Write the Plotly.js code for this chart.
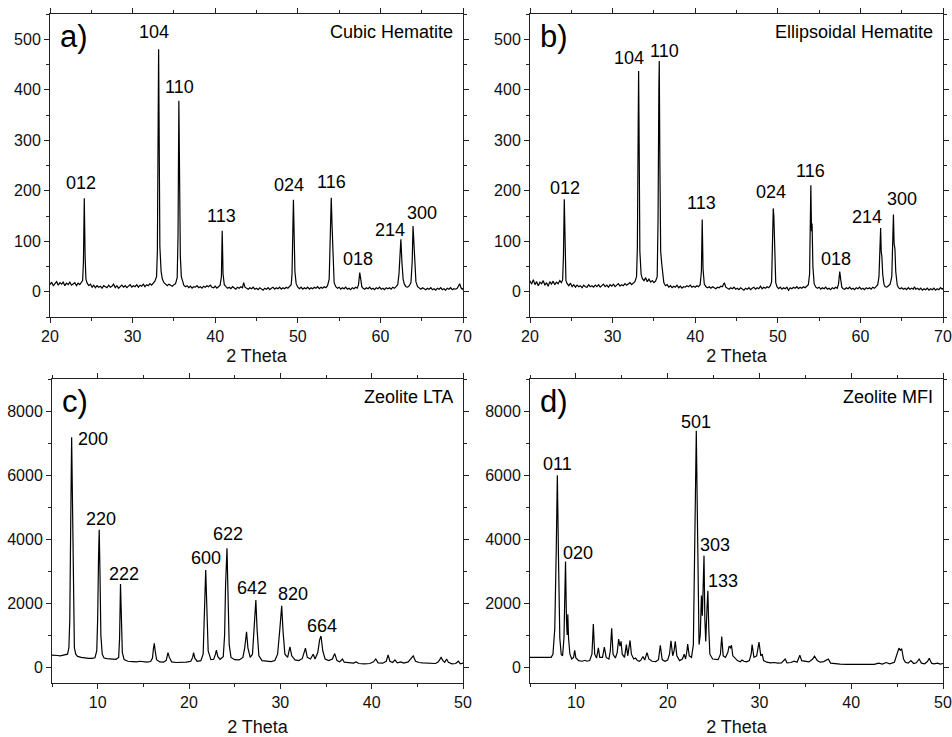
<!DOCTYPE html>
<html>
<head>
<meta charset="utf-8">
<script src="https://cdn.plot.ly/plotly-3.0.1.min.js"></script>
<style>html,body{margin:0;padding:0;background:#fff}#chart{width:952px;height:737px}</style>
</head>
<body>
<div id="chart"></div>
<script>
// ---- Data (2 Theta, intensity) ----
const cubicHematite = [
[20.0,14],[20.2,19],[20.4,12],[20.6,17],[20.8,20],[21.0,13],[21.2,18],[21.4,15],[21.6,19],[21.8,12],[22.0,17],[22.2,14],[22.4,19],[22.6,13],[22.8,16],[23.0,18],[23.2,12],[23.4,17],[23.6,14],[23.8,18],[23.95,22],[24.05,60],[24.15,185],[24.25,70],[24.35,25],[24.5,17],[24.7,12],[24.9,15],[25.1,9],[25.3,13],[25.5,8],[25.7,12],[25.9,9],[26.1,11],[26.3,7],[26.5,12],[26.7,10],[26.9,8],[27.1,13],[27.3,9],[27.5,11],[27.7,15],[27.9,8],[28.1,12],[28.3,7],[28.5,10],[28.7,13],[28.9,9],[29.1,12],[29.3,8],[29.5,11],[29.7,14],[29.9,9],[30.1,12],[30.3,10],[30.5,14],[30.7,9],[30.9,13],[31.1,11],[31.3,15],[31.5,10],[31.7,14],[31.9,12],[32.1,16],[32.3,13],[32.5,18],[32.7,21],[32.9,30],[33.0,80],[33.1,350],[33.15,480],[33.22,300],[33.3,90],[33.45,40],[33.6,25],[33.8,18],[34.0,14],[34.2,12],[34.4,15],[34.6,12],[34.8,11],[35.0,14],[35.2,16],[35.4,28],[35.5,110],[35.6,378],[35.68,250],[35.78,70],[35.9,30],[36.05,18],[36.2,13],[36.4,10],[36.6,12],[36.8,8],[37.0,11],[37.2,7],[37.4,10],[37.6,9],[37.8,12],[38.0,8],[38.2,10],[38.4,7],[38.6,11],[38.8,9],[39.0,12],[39.2,10],[39.4,13],[39.6,9],[39.8,8],[40.0,11],[40.2,7],[40.4,10],[40.6,13],[40.75,30],[40.85,121],[40.95,35],[41.1,14],[41.3,10],[41.5,7],[41.7,9],[41.9,6],[42.1,10],[42.3,8],[42.5,5],[42.7,9],[42.9,7],[43.1,10],[43.3,8],[43.45,18],[43.6,9],[43.8,7],[44.0,5],[44.2,8],[44.4,6],[44.6,9],[44.8,5],[45.0,7],[45.2,4],[45.4,8],[45.6,6],[45.8,3],[46.0,7],[46.2,5],[46.4,8],[46.6,4],[46.8,7],[47.0,9],[47.2,5],[47.4,8],[47.6,6],[47.8,9],[48.0,5],[48.2,8],[48.4,6],[48.6,9],[48.8,7],[49.0,10],[49.2,14],[49.3,35],[49.4,140],[49.47,182],[49.55,120],[49.65,40],[49.8,16],[50.0,9],[50.2,6],[50.4,9],[50.6,5],[50.8,8],[51.0,6],[51.2,9],[51.4,5],[51.6,8],[51.8,6],[52.0,9],[52.2,7],[52.4,10],[52.6,6],[52.8,9],[53.0,7],[53.2,10],[53.4,8],[53.6,12],[53.8,25],[53.95,110],[54.05,186],[54.15,130],[54.28,40],[54.4,18],[54.6,10],[54.8,7],[55.0,9],[55.2,5],[55.4,8],[55.6,6],[55.8,9],[56.0,5],[56.2,7],[56.4,4],[56.6,8],[56.8,6],[57.0,9],[57.2,7],[57.35,14],[57.5,38],[57.62,25],[57.75,10],[57.9,7],[58.1,5],[58.3,8],[58.5,6],[58.7,9],[58.9,5],[59.1,7],[59.3,4],[59.5,8],[59.7,6],[59.9,9],[60.1,5],[60.3,7],[60.5,4],[60.7,8],[60.9,6],[61.1,8],[61.3,5],[61.5,9],[61.7,7],[61.9,10],[62.1,14],[62.25,35],[62.4,95],[62.48,104],[62.6,60],[62.75,25],[62.9,15],[63.1,10],[63.3,9],[63.5,12],[63.7,18],[63.85,60],[63.95,130],[64.05,100],[64.15,50],[64.3,20],[64.5,10],[64.7,7],[64.9,5],[65.1,8],[65.3,6],[65.5,4],[65.7,7],[65.9,5],[66.1,8],[66.3,4],[66.5,6],[66.7,3],[66.9,7],[67.1,5],[67.3,8],[67.5,4],[67.7,6],[67.9,3],[68.1,7],[68.3,5],[68.5,8],[68.7,4],[68.9,6],[69.1,5],[69.3,7],[69.5,12],[69.6,16],[69.75,8],[69.9,5],[70.0,7]
];
const ellipsoidalHematite = [
[20.0,22],[20.2,15],[20.4,24],[20.6,14],[20.8,20],[21.0,12],[21.2,19],[21.4,16],[21.6,22],[21.8,13],[22.0,18],[22.2,11],[22.4,20],[22.6,15],[22.8,21],[23.0,14],[23.2,19],[23.4,16],[23.6,22],[23.8,18],[23.95,24],[24.05,70],[24.15,183],[24.25,60],[24.35,22],[24.5,16],[24.7,12],[24.9,17],[25.1,10],[25.3,14],[25.5,9],[25.7,13],[25.9,10],[26.1,12],[26.3,8],[26.5,13],[26.7,10],[26.9,9],[27.1,14],[27.3,10],[27.5,12],[27.7,9],[27.9,13],[28.1,10],[28.3,14],[28.5,9],[28.7,12],[28.9,15],[29.1,10],[29.3,13],[29.5,9],[29.7,14],[29.9,11],[30.1,15],[30.3,10],[30.5,13],[30.7,16],[30.9,11],[31.1,14],[31.3,12],[31.5,16],[31.7,13],[31.9,15],[32.1,18],[32.3,14],[32.5,17],[32.7,20],[32.9,30],[33.0,90],[33.1,330],[33.15,437],[33.22,280],[33.3,80],[33.45,35],[33.6,26],[33.8,22],[34.0,28],[34.2,20],[34.4,25],[34.6,19],[34.8,22],[35.0,18],[35.2,21],[35.4,30],[35.5,140],[35.6,400],[35.65,457],[35.72,260],[35.82,80],[35.95,55],[36.05,40],[36.2,18],[36.4,12],[36.6,14],[36.8,9],[37.0,12],[37.2,8],[37.4,11],[37.6,9],[37.8,13],[38.0,8],[38.2,11],[38.4,7],[38.6,10],[38.8,9],[39.0,12],[39.2,10],[39.4,13],[39.6,9],[39.8,11],[40.0,9],[40.2,12],[40.4,10],[40.6,14],[40.75,40],[40.85,143],[40.95,45],[41.1,15],[41.3,10],[41.5,8],[41.7,10],[41.9,7],[42.1,10],[42.3,8],[42.5,6],[42.7,9],[42.9,8],[43.1,11],[43.3,10],[43.45,16],[43.55,17],[43.7,9],[43.9,7],[44.1,5],[44.3,8],[44.5,6],[44.7,9],[44.9,5],[45.1,7],[45.3,4],[45.5,8],[45.7,6],[45.9,3],[46.1,7],[46.3,5],[46.5,8],[46.7,4],[46.9,7],[47.1,9],[47.3,5],[47.5,8],[47.7,6],[47.9,11],[48.1,6],[48.3,9],[48.5,7],[48.7,10],[48.9,8],[49.1,12],[49.25,20],[49.35,90],[49.45,165],[49.52,150],[49.62,60],[49.75,18],[49.9,10],[50.1,6],[50.3,9],[50.5,5],[50.7,8],[50.9,6],[51.1,9],[51.3,3],[51.5,8],[51.7,6],[51.9,9],[52.1,7],[52.3,10],[52.5,6],[52.7,9],[52.9,7],[53.1,10],[53.3,8],[53.5,11],[53.7,14],[53.85,35],[53.95,150],[54.0,211],[54.08,120],[54.15,135],[54.25,50],[54.4,16],[54.6,9],[54.8,7],[55.0,9],[55.2,5],[55.4,8],[55.6,6],[55.8,9],[56.0,5],[56.2,7],[56.4,4],[56.6,8],[56.8,6],[57.0,9],[57.2,7],[57.35,15],[57.5,40],[57.62,24],[57.75,9],[57.9,6],[58.1,5],[58.3,8],[58.5,6],[58.7,9],[58.9,5],[59.1,7],[59.3,4],[59.5,8],[59.7,6],[59.9,9],[60.1,5],[60.3,7],[60.5,4],[60.7,8],[60.9,6],[61.1,8],[61.3,5],[61.5,9],[61.7,7],[61.9,10],[62.1,14],[62.25,30],[62.38,110],[62.45,126],[62.52,80],[62.6,70],[62.7,35],[62.85,15],[63.0,10],[63.2,9],[63.4,12],[63.6,15],[63.8,30],[63.92,120],[64.0,153],[64.08,95],[64.18,85],[64.28,40],[64.45,14],[64.6,8],[64.8,6],[65.0,8],[65.2,5],[65.4,7],[65.6,4],[65.8,8],[66.0,5],[66.2,7],[66.4,5],[66.55,10],[66.7,5],[66.9,7],[67.1,4],[67.3,7],[67.5,3],[67.7,6],[67.9,4],[68.1,7],[68.3,3],[68.5,6],[68.7,4],[68.9,7],[69.1,3],[69.3,6],[69.5,4],[69.7,8],[69.9,5],[70.0,7]
];
const zeoliteLTA = [
[5.0,370],[5.3,355],[5.6,360],[5.9,350],[6.2,365],[6.5,375],[6.7,400],[6.85,600],[6.95,1500],[7.05,4500],[7.15,7180],[7.25,5000],[7.35,1500],[7.45,600],[7.6,400],[7.8,330],[8.2,300],[8.6,280],[9.0,270],[9.4,270],[9.7,290],[9.9,500],[10.0,1500],[10.1,3500],[10.17,4290],[10.25,3000],[10.35,1000],[10.5,400],[10.7,280],[11.0,260],[11.5,240],[12.0,240],[12.3,300],[12.4,900],[12.5,2590],[12.6,1400],[12.7,450],[12.9,230],[13.3,180],[13.8,170],[14.3,160],[14.6,180],[14.9,160],[15.4,150],[15.8,170],[16.0,280],[16.1,560],[16.2,740],[16.3,500],[16.45,230],[16.8,160],[17.2,150],[17.5,200],[17.7,450],[17.85,300],[18.1,160],[18.6,140],[19.2,140],[19.7,150],[20.2,180],[20.4,300],[20.5,450],[20.65,270],[20.9,180],[21.3,200],[21.55,400],[21.7,1800],[21.83,3030],[21.95,1900],[22.1,500],[22.4,230],[22.7,240],[22.9,400],[23.0,530],[23.15,330],[23.4,240],[23.75,320],[23.9,1000],[24.0,2500],[24.16,3710],[24.27,2300],[24.4,700],[24.6,300],[25.0,230],[25.5,220],[25.9,300],[26.1,600],[26.3,1100],[26.45,600],[26.7,300],[26.95,400],[27.15,1400],[27.32,2090],[27.45,1200],[27.65,350],[28.0,200],[28.5,180],[29.0,170],[29.4,200],[29.7,400],[29.95,1200],[30.15,1910],[30.3,1100],[30.5,400],[30.8,300],[31.05,630],[31.25,350],[31.6,220],[32.0,200],[32.4,260],[32.75,590],[32.95,300],[33.3,250],[33.6,400],[33.8,250],[34.1,450],[34.3,850],[34.45,970],[34.65,500],[34.9,250],[35.3,200],[35.7,250],[35.95,420],[36.2,200],[36.5,160],[36.8,250],[37.0,150],[37.5,130],[38.0,120],[38.3,160],[38.6,110],[39.2,100],[39.8,110],[40.2,160],[40.45,250],[40.7,130],[41.2,120],[41.6,180],[41.8,380],[42.0,180],[42.3,140],[42.55,220],[42.8,130],[43.2,160],[43.5,120],[44.0,160],[44.3,250],[44.55,350],[44.8,180],[45.2,140],[45.6,130],[46.0,120],[46.5,100],[47.0,110],[47.3,160],[47.6,300],[47.8,200],[48.0,150],[48.2,250],[48.4,150],[48.8,100],[49.2,110],[49.5,180],[49.7,100],[50.0,120]
];
const zeoliteMFI = [
[5.0,300],[5.5,300],[6.0,295],[6.5,290],[7.0,285],[7.3,300],[7.5,400],[7.7,1200],[7.85,3500],[7.98,5990],[8.1,3500],[8.25,900],[8.4,400],[8.55,350],[8.7,900],[8.8,2500],[8.87,3300],[8.97,1500],[9.05,1000],[9.12,1650],[9.2,900],[9.35,400],[9.55,250],[9.75,300],[9.87,520],[10.0,280],[10.3,200],[10.7,180],[11.0,210],[11.2,180],[11.5,200],[11.75,400],[11.9,1340],[12.05,400],[12.25,280],[12.45,600],[12.6,300],[12.9,300],[13.1,620],[13.3,300],[13.6,250],[13.75,500],[13.9,1210],[14.05,400],[14.3,280],[14.5,450],[14.66,870],[14.8,650],[14.92,800],[15.05,400],[15.3,300],[15.5,700],[15.65,350],[15.9,830],[16.05,400],[16.3,250],[16.5,280],[16.7,200],[16.9,180],[17.1,220],[17.3,330],[17.5,220],[17.75,450],[17.95,250],[18.3,180],[18.7,170],[19.0,230],[19.2,680],[19.4,230],[19.7,180],[20.0,220],[20.2,400],[20.36,820],[20.55,350],[20.7,500],[20.83,800],[21.0,350],[21.3,200],[21.6,250],[21.8,400],[21.95,250],[22.1,500],[22.18,720],[22.35,350],[22.6,300],[22.8,700],[22.95,3500],[23.06,6500],[23.12,7380],[23.2,5500],[23.3,2500],[23.42,700],[23.55,1000],[23.68,2230],[23.78,1600],[23.88,2500],[23.96,3480],[24.05,1500],[24.15,800],[24.28,1800],[24.38,2380],[24.48,1200],[24.6,400],[24.9,250],[25.2,250],[25.5,230],[25.75,400],[25.89,950],[26.05,350],[26.3,300],[26.55,450],[26.7,650],[26.85,600],[26.95,680],[27.1,350],[27.4,250],[27.6,200],[27.9,160],[28.1,220],[28.3,180],[28.6,160],[28.9,200],[29.1,400],[29.2,700],[29.4,300],[29.7,350],[29.95,780],[30.15,350],[30.3,400],[30.45,200],[30.8,150],[31.2,130],[31.6,140],[32.0,120],[32.4,130],[32.8,250],[33.0,130],[33.4,140],[33.8,180],[34.1,150],[34.4,370],[34.6,200],[35.0,190],[35.4,160],[35.8,250],[36.0,340],[36.3,200],[36.6,150],[37.0,170],[37.3,210],[37.5,250],[37.75,120],[38.2,100],[38.8,90],[39.5,80],[40.2,80],[41.0,75],[41.8,80],[42.5,85],[43.0,120],[43.4,90],[43.8,140],[44.2,100],[44.7,150],[45.0,400],[45.2,590],[45.35,520],[45.5,570],[45.7,250],[45.9,150],[46.2,120],[46.5,200],[46.8,110],[47.1,130],[47.4,250],[47.65,120],[48.0,100],[48.3,170],[48.5,270],[48.75,120],[49.0,100],[49.4,120],[49.7,90],[50.0,110]
];

// Peak labels: [text, x, y]
const labelsA = [["012",23.75,215],["104",32.6,514],["110",35.7,405],["113",40.8,150],["024",48.9,212],["116",54.1,217],["018",57.3,65],["214",61.2,123],["300",65.0,156]];
const labelsB = [["012",24.2,206],["104",32.0,462],["110",36.3,476],["113",40.8,176],["024",49.2,198],["116",54.0,239],["018",57.0,65],["214",60.8,148],["300",65.0,184]];
const labelsC = [["200",9.45,7140],["220",10.37,4630],["222",12.88,2910],["600",21.83,3410],["622",24.24,4160],["642",26.87,2470],["820",31.35,2280],["664",34.6,1290]];
const labelsD = [["011",8.0,6340],["020",10.2,3560],["501",23.1,7670],["303",25.16,3810],["133",26.0,2680]];

const panelLetters = ["a)","b)","c)","d)"];
const panelNames = ["Cubic Hematite","Ellipsoidal Hematite","Zeolite LTA","Zeolite MFI"];
const xTitle = "2 Theta";

// ---- Build figure ----
const FONT = "Liberation Sans, Arial, sans-serif";
const series = [cubicHematite, ellipsoidalHematite, zeoliteLTA, zeoliteMFI];
const labelSets = [labelsA, labelsB, labelsC, labelsD];
const axisIds = [["x","y"],["x2","y2"],["x3","y3"],["x4","y4"]];

const traces = series.map((s,i)=>({
  x: s.map(p=>p[0]), y: s.map(p=>p[1]),
  xaxis: axisIds[i][0], yaxis: axisIds[i][1],
  type:"scatter", mode:"lines",
  line:{color:"#000", width:1.2}, hoverinfo:"skip"
}));

const W=952,H=737;
const xdom = [[50/W,463/W],[530/W,943/W],[52/W,463/W],[530/W,943/W]];
const ydom = [[1-317/H,1-14/H],[1-317/H,1-14/H],[1-683/H,1-379/H],[1-683/H,1-379/H]];
const xr = [[20,70],[20,70],[5,50],[5,50]];
const yr = [[-50,550],[-50,550],[-500,9000],[-500,9000]];
const xdt = [10,10,10,10], xminor=[5,5,5,5];
const ydt = [100,100,2000,2000], yminor=[50,50,1000,1000];
const standoffs = [5,5,19,19];

const layout = {
  width:W, height:H, margin:{l:0,r:0,t:0,b:0},
  paper_bgcolor:"#fff", plot_bgcolor:"#fff",
  showlegend:false, font:{family:FONT, color:"#000"},
  annotations:[]
};

function axisBase(){
  return {showgrid:false, zeroline:false, showline:true, linecolor:"#222", linewidth:1,
    mirror:"ticks", ticks:"outside", ticklen:5, tickwidth:1, tickcolor:"#222",
    tickfont:{family:FONT,size:16,color:"#111"}, automargin:false, fixedrange:true};
}

for(let i=0;i<4;i++){
  const xk = i===0?"xaxis":"xaxis"+(i+1);
  const yk = i===0?"yaxis":"yaxis"+(i+1);
  const ax = axisBase();
  Object.assign(ax,{domain:xdom[i], range:xr[i], dtick:xdt[i], tick0:0, anchor:axisIds[i][1],
    minor:{dtick:xminor[i], tick0:0, ticks:"outside", ticklen:3, tickcolor:"#222", showgrid:false},
    title:{text:xTitle, font:{family:FONT,size:18,color:"#111"}, standoff:standoffs[i]}});
  const ay = axisBase();
  Object.assign(ay,{domain:ydom[i], range:yr[i], dtick:ydt[i], tick0:0, anchor:axisIds[i][0],
    minor:{dtick:yminor[i], tick0:0, ticks:"outside", ticklen:3, tickcolor:"#222", showgrid:false}});
  layout[xk]=ax; layout[yk]=ay;

  labelSets[i].forEach(l=>layout.annotations.push({
    text:l[0], x:l[1], y:l[2], xref:axisIds[i][0], yref:axisIds[i][1],
    showarrow:false, font:{family:FONT,size:18,color:"#000"}
  }));
  layout.annotations.push({
    text:panelLetters[i], xref:axisIds[i][0]+" domain", yref:axisIds[i][1]+" domain",
    x:0.02, y:0.99, xanchor:"left", yanchor:"top", showarrow:false,
    font:{family:FONT,size:31,color:"#000"}
  });
  layout.annotations.push({
    text:panelNames[i], xref:axisIds[i][0]+" domain", yref:axisIds[i][1]+" domain",
    x:0.98, y:0.98, xanchor:"right", yanchor:"top", showarrow:false,
    font:{family:FONT,size:18,color:"#000"}
  });
}

Plotly.newPlot("chart", traces, layout, {staticPlot:true, displayModeBar:false});
</script>
</body>
</html>
